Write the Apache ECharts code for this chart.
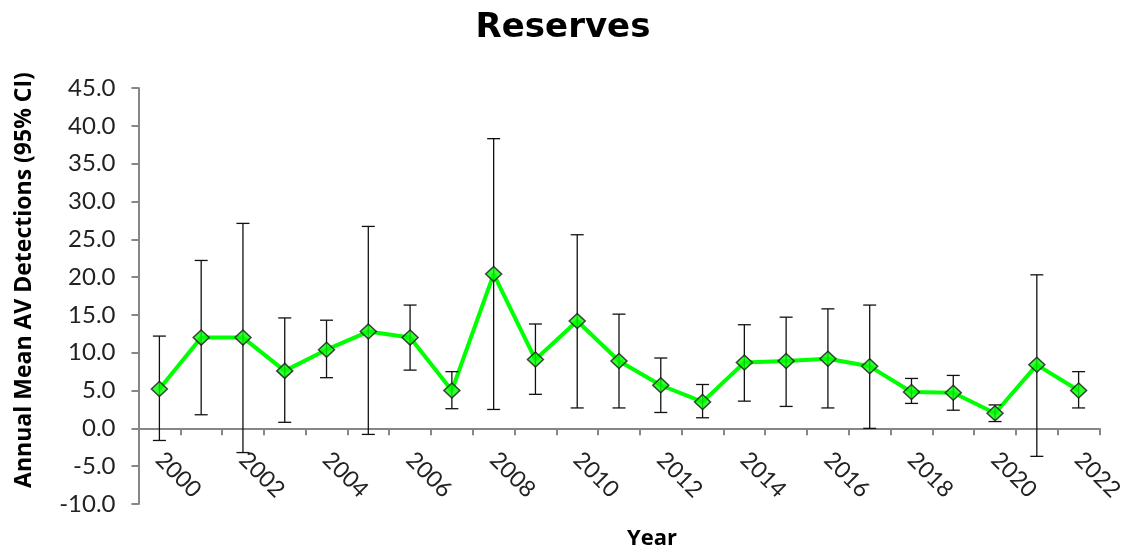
<!DOCTYPE html>
<html>
<head>
<meta charset="utf-8">
<script src="https://cdn.jsdelivr.net/npm/echarts@6/dist/echarts.min.js"></script>
<style>html,body{margin:0;padding:0;background:#fff}#chart{width:1126px;height:554px}</style>
</head>
<body>
<div id="chart"></div>
<script>
var years = ['2000','2001','2002','2003','2004','2005','2006','2007','2008','2009','2010','2011','2012','2013','2014','2015','2016','2017','2018','2019','2020','2021','2022'];
var means = [5.2, 12.0, 12.0, 7.6, 10.4, 12.8, 12.0, 5.0, 20.4, 9.1, 14.2, 8.9, 5.7, 3.5, 8.7, 8.9, 9.2, 8.2, 4.8, 4.7, 2.0, 8.4, 5.0];
var upper = [12.2, 22.2, 27.1, 14.6, 14.3, 26.7, 16.3, 7.5, 38.3, 13.8, 25.6, 15.1, 9.3, 5.8, 13.7, 14.7, 15.8, 16.3, 6.6, 7.0, 3.1, 20.3, 7.5];
var lower = [-1.6, 1.8, -3.2, 0.8, 6.7, -0.8, 7.7, 2.6, 2.5, 4.5, 2.7, 2.7, 2.1, 1.4, 3.6, 2.9, 2.7, 0.0, 3.3, 2.4, 0.9, -3.7, 2.7];
var yMin = -10, yMax = 45, yStep = 5;

var errData = years.map(function (y, i) { return [i, lower[i], upper[i]]; });

var chart = echarts.init(document.getElementById('chart'));
var axisGray = '#868686';
var labelFont = 'Lato';
chart.setOption({
  animation: false,
  title: {
    text: 'Reserves', left: 'center', top: 6,
    textStyle: { fontFamily: 'DejaVu Sans', fontWeight: 'bold', fontSize: 34, color: '#000' }
  },
  grid: { left: 138.5, right: 26.5, top: 88, bottom: 50, containLabel: false, outerBoundsMode: 'none' },
  xAxis: {
    type: 'category', data: years, boundaryGap: true,
    axisLine: { onZero: true, lineStyle: { color: axisGray, width: 2 } },
    axisTick: { show: true, interval: 0, length: 7, lineStyle: { color: axisGray, width: 2 } },
    axisLabel: { interval: 1, rotate: -45, margin: -48, color: '#222', fontFamily: labelFont, fontSize: 23 },
    splitLine: { show: false }
  },
  yAxis: {
    type: 'value', min: yMin, max: yMax, interval: yStep,
    axisLine: { show: true, lineStyle: { color: axisGray, width: 2 } },
    axisTick: { show: true, length: 7, lineStyle: { color: axisGray, width: 2 } },
    axisLabel: { margin: 23, color: '#222', fontFamily: labelFont, fontSize: 24,
      formatter: function (v) { return v.toFixed(1); } },
    splitLine: { show: false }
  },
  graphic: [
    { type: 'text', x: 24, y: 280, rotation: Math.PI / 2,
      style: { text: 'Annual Mean AV Detections (95% CI)', fontFamily: 'Open Sans', fontWeight: 'bold',
        fontSize: 23, fill: '#000', textAlign: 'center', textVerticalAlign: 'middle' } },
    { type: 'text', x: 652, y: 539,
      style: { text: 'Year', fontFamily: 'Open Sans', fontWeight: 'bold',
        fontSize: 22, fill: '#000', textAlign: 'center', textVerticalAlign: 'middle' } }
  ],
  series: [
    { type: 'line', data: means, z: 1, showSymbol: false, symbol: 'none',
      lineStyle: { color: '#00ff00', width: 4 } },
    { type: 'custom', z: 2, data: errData,
      renderItem: function (params, api) {
        var x = api.value(0);
        var lo = api.coord([x, api.value(1)]);
        var hi = api.coord([x, api.value(2)]);
        var hw = 6.5;
        var st = { stroke: '#111', lineWidth: 1.3 };
        return { type: 'group', children: [
          { type: 'line', shape: { x1: lo[0], y1: lo[1], x2: hi[0], y2: hi[1] }, style: st },
          { type: 'line', shape: { x1: lo[0] - hw, y1: lo[1], x2: lo[0] + hw, y2: lo[1] }, style: st },
          { type: 'line', shape: { x1: hi[0] - hw, y1: hi[1], x2: hi[0] + hw, y2: hi[1] }, style: st }
        ]};
      }
    },
    { type: 'scatter', data: means, z: 3, symbol: 'diamond', symbolSize: [16, 15],
      itemStyle: { color: '#00ff00', borderColor: '#1a1a1a', borderWidth: 1.5 } }
  ]
});
</script>
</body>
</html>
